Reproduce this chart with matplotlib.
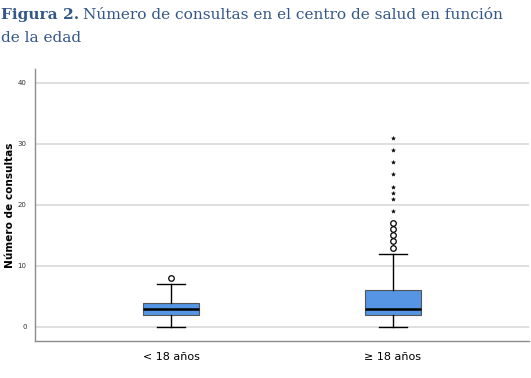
import numpy as np
import matplotlib
matplotlib.use("Agg")
import matplotlib.pyplot as plt

# data
groups = ["< 18 años", "≥ 18 años"]
whislo = [0, 0]
q1 = [2, 2]
med = [3, 3]
q3 = [4, 6]
whishi = [7, 12]
# mild outliers (circles) and extreme outliers (stars)
mild = [[8], [13, 14, 15, 16, 17]]
extreme = [[], [19, 21, 22, 23, 25, 27, 29, 31]]

title_color = "#34578a"
box_color = "#5595e3"

fig = plt.figure(figsize=(5.31, 3.78), dpi=100)
ax = fig.add_axes([0.066, 0.098, 0.930, 0.720])

stats = []
for i in range(len(groups)):
    stats.append(dict(label=groups[i], whislo=whislo[i], q1=q1[i], med=med[i],
                      q3=q3[i], whishi=whishi[i], fliers=[]))

ax.bxp(stats, positions=range(len(groups)), widths=0.25, patch_artist=True,
       showfliers=False,
       boxprops=dict(facecolor=box_color, edgecolor="#555555", linewidth=0.8),
       medianprops=dict(color="black", linewidth=1.8),
       whiskerprops=dict(color="black", linewidth=1.0),
       capprops=dict(color="black", linewidth=1.0),
       capwidths=0.125, zorder=3)

for i in range(len(groups)):
    if mild[i]:
        ax.plot([i] * len(mild[i]), mild[i], linestyle="none", marker="o",
                markersize=4, markerfacecolor="white", markeredgecolor="black",
                markeredgewidth=0.9, zorder=4)
    if extreme[i]:
        ax.plot([i] * len(extreme[i]), extreme[i], linestyle="none", marker="*",
                markersize=3, color="black", markeredgewidth=0.3, zorder=4)

ax.set_xlim(-0.6125, 1.6125)
ax.set_ylim(-2.3, 42.3)
ax.set_yticks([0, 10, 20, 30, 40])
ax.yaxis.grid(True, color="#dcdcdc", linewidth=1.3)
ax.set_axisbelow(True)
ax.tick_params(axis="y", labelsize=5, length=0, pad=6, labelcolor="#333333")
ax.tick_params(axis="x", labelsize=8, length=0, pad=8)
ax.set_xticks(range(len(groups)))
ax.set_xticklabels(groups)
ax.set_ylabel("Número de consultas", fontsize=7.6, fontweight="bold")
ax.yaxis.set_label_coords(-0.04, 0.5)

for s in ["top", "right"]:
    ax.spines[s].set_visible(False)
for s in ["left", "bottom"]:
    ax.spines[s].set_color("#8c8c8c")
    ax.spines[s].set_linewidth(1.0)

# title in two pieces: bold "Figura 2." then the rest
t1 = fig.text(0.002, 0.978, "Figura 2.", fontsize=11.1, fontweight="bold",
              family="DejaVu Serif", color=title_color, va="top", ha="left")
fig.canvas.draw()
bb = t1.get_window_extent()
x2 = (bb.x1 + 4) / fig.bbox.width
fig.text(x2, 0.978, "Número de consultas en el centro de salud en función",
         fontsize=11.1, family="DejaVu Serif", color=title_color,
         va="top", ha="left")
fig.text(0.002, 0.918, "de la edad", fontsize=11.1, family="DejaVu Serif",
         color=title_color, va="top", ha="left")

fig.savefig("out.png", dpi=100)
